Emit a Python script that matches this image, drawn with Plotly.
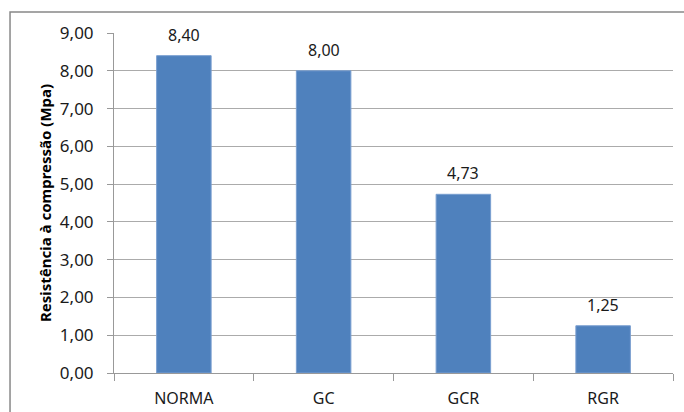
import plotly.graph_objects as go

categories = ["NORMA", "GC", "GCR", "RGR"]
values = [8.40, 8.00, 4.73, 1.25]
y_ticks = [0, 1, 2, 3, 4, 5, 6, 7, 8, 9]
y_title = "Resistência à compressão (Mpa)"

FONT = "Noto Sans"
fig = go.Figure()
fig.add_trace(go.Bar(
    x=categories, y=values,
    marker=dict(color="#4F81BD", line=dict(color="#7A9FD0", width=1)),
    width=0.39,
    hoverinfo="skip",
))

for c, v in zip(categories, values):
    fig.add_annotation(
        x=c, y=v, text=f"{v:.2f}".replace(".", ","),
        showarrow=False, yanchor="bottom", yshift=8,
        font=dict(family=FONT, size=16, color="#1a1a1a"),
    )

fig.update_layout(
    width=684, height=412,
    margin=dict(l=114, r=11, t=33, b=39),
    paper_bgcolor="white", plot_bgcolor="white",
    separators=",.",
    showlegend=False,
    font=dict(family=FONT, size=16, color="#1a1a1a"),
    xaxis=dict(
        type="category",
        automargin=False,
        tickson="boundaries",
        ticks="outside", ticklen=7, tickcolor="#999999",
        showline=True, linecolor="#999999", linewidth=1,
        showgrid=False,
        ticklabelstandoff=11,
        tickfont=dict(family=FONT, size=16, color="#1a1a1a"),
    ),
    yaxis=dict(
        range=[0, 9],
        automargin=False,
        tickvals=y_ticks,
        tickformat=".2f",
        ticks="outside", ticklen=6, tickcolor="#999999",
        showline=True, linecolor="#999999", linewidth=1,
        showgrid=True, gridcolor="#ababab", gridwidth=1,
        zeroline=False,
        ticklabelstandoff=10,
        tickfont=dict(family=FONT, size=17, color="#1a1a1a"),
        title=dict(text=y_title, font=dict(family=FONT, size=15, color="#000000", weight="bold"), standoff=4),
    ),
    shapes=[dict(
        type="rect", xref="paper", yref="paper",
        x0=-0.186, x1=1.05, y0=-0.2, y1=1.0618,
        line=dict(color="#888888", width=1.5), fillcolor="rgba(0,0,0,0)", layer="below",
    )],
)

fig.write_html("out.html")
